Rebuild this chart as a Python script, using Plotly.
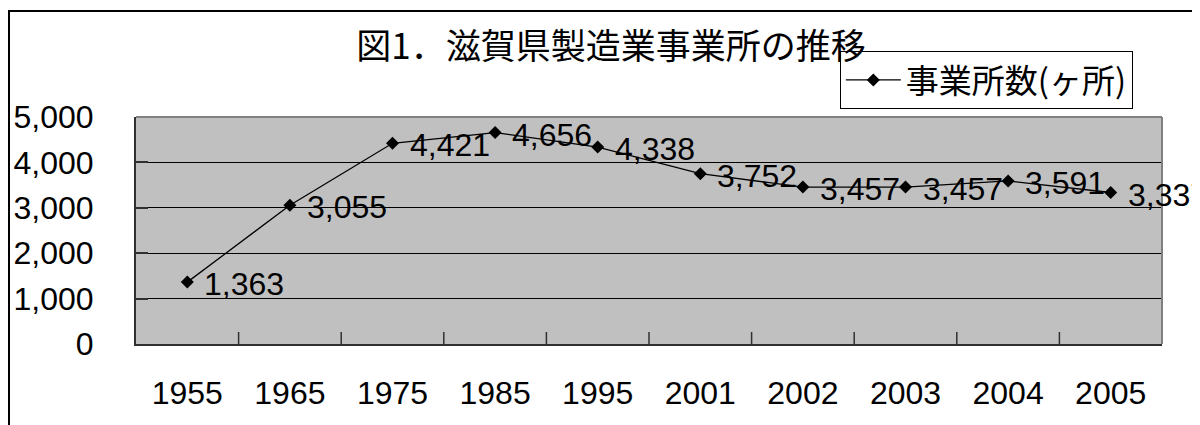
import plotly.graph_objects as go

years = ["1955", "1965", "1975", "1985", "1995", "2001", "2002", "2003", "2004", "2005"]
counts = [1363, 3055, 4421, 4656, 4338, 3752, 3457, 3457, 3591, 3337]
series_name = "事業所数(ヶ所)"
title_text = "図1．滋賀県製造業事業所の推移"
y_ticks = [0, 1000, 2000, 3000, 4000, 5000]

FONT = "Liberation Sans, Arial, Noto Sans CJK JP"
CJK = "Noto Sans CJK JP, Liberation Sans"

fig = go.Figure()
fig.add_trace(go.Scatter(
    x=years, y=counts, name=series_name,
    mode="lines+markers",
    line=dict(color="black", width=1.3),
    marker=dict(symbol="diamond", size=10, color="black"),
    cliponaxis=False,
    showlegend=True,
))

# data labels to the right of each point (category index positions)
for i, v in enumerate(counts):
    fig.add_annotation(x=i, y=v, xref="x", yref="y", text=f"{v:,}",
                       showarrow=False, xanchor="left", yanchor="middle",
                       xshift=15, yshift=-2,
                       font=dict(size=32, color="black", family=FONT))

fig.update_layout(
    width=1200, height=425,
    margin=dict(l=128, r=46, t=109, b=89, autoexpand=False),
    paper_bgcolor="white",
    plot_bgcolor="#C0C0C0",
    font=dict(family=FONT, color="black"),
    title=dict(text=title_text, x=603 / 1200, xanchor="center", xref="container",
               y=1 - 39 / 425, yanchor="middle", yref="container",
               font=dict(size=35, color="black", family=CJK)),
    legend=dict(x=0.686, y=1.291, xanchor="left", yanchor="top",
                bgcolor="white", bordercolor="black", borderwidth=1,
                font=dict(size=33, family=CJK),
                itemwidth=55),
    xaxis=dict(
        type="category", range=[-0.5, 9.5], automargin=False,
        showgrid=False, showline=True, linecolor="#303030", linewidth=2,
        ticks="", tickfont=dict(size=32, color="black"),
        ticklabelstandoff=20,
    ),
    yaxis=dict(
        range=[0, 5000], tickvals=y_ticks, tickformat=",d", automargin=False,
        showgrid=True, gridcolor="black", gridwidth=1,
        showline=True, linecolor="#303030", linewidth=2,
        ticks="inside", ticklen=12, tickcolor="#303030", tickwidth=2,
        tickfont=dict(size=32, color="black"),
        ticklabelstandoff=34,
        zeroline=False,
    ),
)

# category boundary tick marks on the x-axis (inside)
for i in range(1, 10):
    fig.add_shape(type="line", xref="x", yref="paper",
                  x0=i - 0.5, x1=i - 0.5, y0=0, y1=12 / 227,
                  line=dict(color="#303030", width=1.5))
# gray top and right frame of the plot area
fig.add_shape(type="line", xref="paper", yref="paper", x0=0, x1=1, y0=1, y1=1,
              line=dict(color="#808080", width=2))
fig.add_shape(type="line", xref="paper", yref="paper", x0=1, x1=1, y0=0, y1=1,
              line=dict(color="#808080", width=2))
# outer chart border (top and left visible)
fig.add_shape(type="rect", xref="paper", yref="paper",
              x0=-127 / 1026, x1=1.2, y0=-0.6, y1=(336 - 3) / 227,
              line=dict(color="black", width=2), layer="below")

fig.write_html("out.html")
